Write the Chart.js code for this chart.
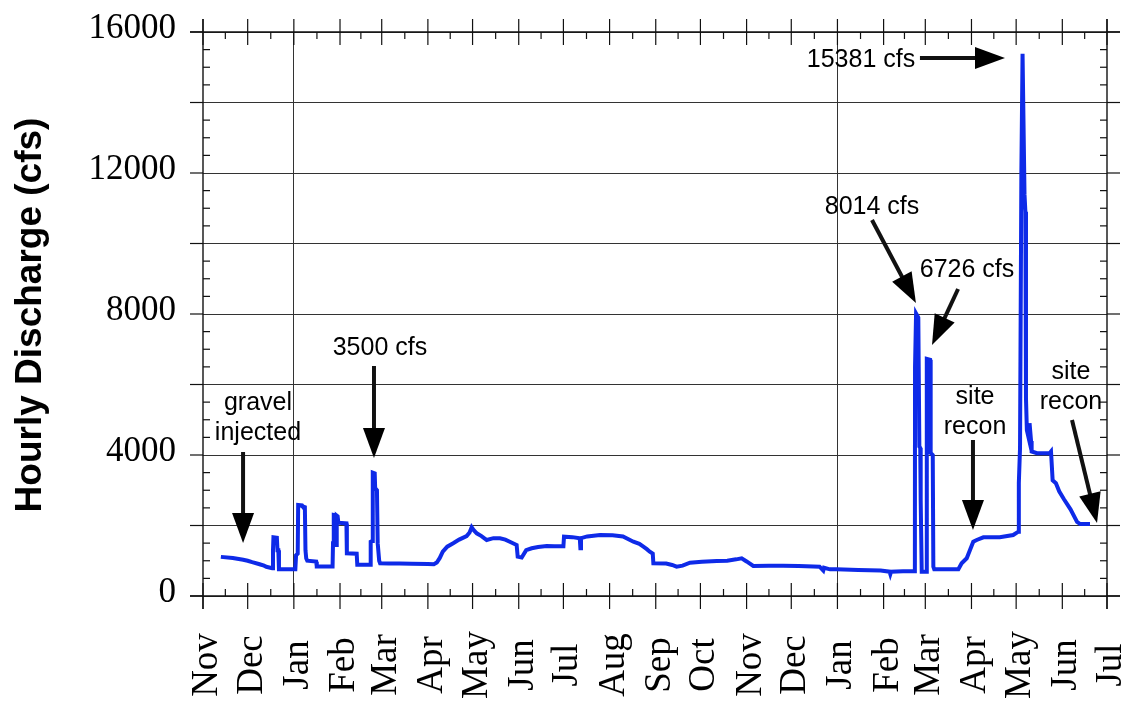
<!DOCTYPE html>
<html>
<head>
<meta charset="utf-8">
<title>Hourly Discharge</title>
<script src="https://cdn.jsdelivr.net/npm/chart.js@4/dist/chart.umd.min.js"></script>
<style>
  html, body { margin: 0; padding: 0; background: #ffffff; }
  #wrap { width: 1136px; height: 702px; }
</style>
</head>
<body>
<div id="wrap"><canvas id="c" width="1136" height="702"></canvas></div>
<script>
// Calendar of the record: month names at each month boundary (Nov .. Jul, 20 months)
const monthLabels = ['Nov','Dec','Jan','Feb','Mar','Apr','May','Jun','Jul','Aug','Sep','Oct',
                     'Nov','Dec','Jan','Feb','Mar','Apr','May','Jun','Jul'];
const monthLengths = [30,31,31,28,31,30,31,30,31,31,30,31,30,31,31,28,31,30,31,30];

// Discharge axis labels (cfs)
const yTickLabels = [0, 4000, 8000, 12000, 16000];

// Hourly discharge record: day since Nov 1 and flow in cfs
const flowDay = [
  12, 20, 27, 30, 33, 38, 41, 42.5, 46.5, 47, 47.3, 49.6, 50, 50.6, 51,
  62, 62.5, 63.6, 63.9, 66.5, 67, 68.4, 68.8, 69.3, 70, 76, 76.4,
  87, 87.3, 87.8, 89, 89.4, 89.8, 90.4, 90.9, 96.3, 96.6, 103.2, 103.6,
  112.3, 112.6, 113.6, 114, 115.3, 115.6, 116.8, 117.3, 118.3, 118.9,
  125, 132, 140, 151, 155, 157, 159, 161, 164, 168, 172, 177, 179, 180.4, 181.5,
  183.8, 187, 190.5, 195, 199.4, 203, 206, 210.6, 211.3, 214, 217, 220.7, 225,
  230.8, 236, 242, 242.4, 248, 253, 253.4, 253.8, 258, 266.6, 275, 282, 289,
  293, 295.7, 298, 300, 302, 302.4, 311, 315, 318, 322, 327, 335, 345, 352,
  358, 361.7, 365, 369.5, 380, 389.5, 400, 409.8, 414, 416.5, 417, 421, 425.5,
  440, 455, 461, 461.5, 462, 470, 478,
  478.1, 478.8, 480.3, 481, 481.6, 481.9, 482.6, 485.5, 486, 488.2, 488.6, 490,
  490.4, 491, 507.2, 509.4, 512.8, 515, 517.2, 519.5, 524, 535, 544, 547.5,
  547.8, 548.6, 549.5, 550.3, 551.6, 552.2, 552.6, 553.2, 554.3, 555, 556, 556.4,
  560, 568.4, 569.4, 570.5, 572.7, 574.9, 578, 582.5, 586.9, 589, 595.6
];
const flowCfs = [
  1110, 1075, 1030, 1000, 960, 900, 860, 830, 790, 1300, 1665, 1650, 1300, 1300, 760,
  760, 1160, 1200, 2580, 2570, 2540, 2520, 1300, 1070, 1000, 975, 840,
  840, 1500, 2300, 2290, 1450, 2280, 2260, 2080, 2060, 1210, 1200, 890,
  890, 1540, 1560, 3500, 3480, 3060, 3000, 1500, 1000, 930,
  925, 920, 915, 910, 900, 950, 1080, 1257, 1400, 1495, 1600, 1702, 1800, 1949, 1880,
  1779, 1700, 1589, 1640, 1636, 1600, 1540, 1447, 1116, 1090, 1300, 1353, 1390,
  1418, 1410, 1410, 1683, 1670, 1636, 1353, 1640, 1690, 1730, 1720, 1690, 1540,
  1480, 1400, 1330, 1257, 1200, 928, 920, 880, 832, 860, 945, 970, 993, 1000,
  1040, 1070, 980, 851, 860, 860, 850, 840, 832, 720, 800, 757, 757,
  740, 720, 690, 620, 690, 700, 700,
  6500, 8014, 7900, 4236, 4200, 2723, 690, 690, 6726, 6700, 4057, 4000,
  832, 757, 757, 928, 1070, 1305, 1540, 1589, 1665, 1665, 1730, 1825,
  3197, 4200, 12000, 15381, 11400, 10900, 5600, 4700, 4500, 4900, 4400, 4100,
  4050, 4050, 4100, 3280, 3200, 2970, 2750, 2460, 2100, 2040, 2040
];

// Text notes, anchored in data units (day, cfs)
const notes = [
  { lines: ['gravel', 'injected'], day: 36.9, cfs: 5475 },
  { lines: ['3500 cfs'], day: 118.8, cfs: 7035 },
  { lines: ['15381 cfs'], day: 441.8, cfs: 15206 },
  { lines: ['8014 cfs'], day: 449.2, cfs: 11035 },
  { lines: ['6726 cfs'], day: 513.0, cfs: 9248 },
  { lines: ['site', 'recon'], day: 518.4, cfs: 5645 },
  { lines: ['site', 'recon'], day: 582.8, cfs: 6355 }
];
// Arrows: tail -> tip, in data units
const arrows = [
  { from: [26.9, 4085], to: [26.9, 1504] },
  { from: [114.8, 6525], to: [114.8, 3915] },
  { from: [481.4, 15262], to: [538.5, 15262] },
  { from: [449.2, 10667], to: [478.7, 8312] },
  { from: [507.0, 8709], to: [489.5, 7121] },
  { from: [517.0, 4426], to: [517.0, 1872] },
  { from: [583.5, 4993], to: [600.3, 2071] }
];

// Month boundary positions on the day axis
const monthStarts = [0];
monthLengths.forEach(n => monthStarts.push(monthStarts[monthStarts.length - 1] + n));
const yearStarts = monthStarts.filter((d, i) => monthLabels[i] === 'Jan');

const points = flowDay.map((d, i) => ({ x: d, y: flowCfs[i] }));

const SERIF = "'Liberation Serif', 'Times New Roman', serif";
const SANS = "'Liberation Sans', Arial, Helvetica, sans-serif";

function drawArrow(ctx, x1, y1, x2, y2) {
  const ang = Math.atan2(y2 - y1, x2 - x1);
  const headLen = 30, headHalf = 11;
  const bx = x2 - Math.cos(ang) * headLen, by = y2 - Math.sin(ang) * headLen;
  ctx.beginPath();
  ctx.lineWidth = 4;
  ctx.moveTo(x1, y1);
  ctx.lineTo(bx + Math.cos(ang) * 2, by + Math.sin(ang) * 2);
  ctx.stroke();
  ctx.beginPath();
  ctx.moveTo(x2, y2);
  ctx.lineTo(bx - Math.sin(ang) * headHalf, by + Math.cos(ang) * headHalf);
  ctx.lineTo(bx + Math.sin(ang) * headHalf, by - Math.cos(ang) * headHalf);
  ctx.closePath();
  ctx.fill();
}

// Frame, tick marks, axis texts and notes
const frameAndNotes = {
  id: 'frameAndNotes',
  afterDraw(chart) {
    const { ctx, chartArea: a, scales: { x, y } } = chart;
    const ext = 13;
    ctx.save();
    ctx.strokeStyle = '#111';
    ctx.fillStyle = '#000';
    ctx.lineWidth = 1.4;
    const seg = (x1, y1, x2, y2) => { ctx.beginPath(); ctx.moveTo(x1, y1); ctx.lineTo(x2, y2); ctx.stroke(); };

    // frame lines, each running a little past the corners
    seg(a.left - ext, a.top, a.right + ext, a.top);
    seg(a.left - ext, a.bottom, a.right + ext, a.bottom);
    seg(a.left, a.top - ext, a.left, a.bottom + ext);
    seg(a.right, a.top - ext, a.right, a.bottom + ext);

    // value axis: gridline stubs outside, minor ticks inside
    ctx.lineWidth = 1.2;
    for (let v = 0; v <= 16000; v += 500) {
      const py = y.getPixelForValue(v);
      if (v % 2000 === 0) {
        seg(a.left - ext, py, a.left, py);
        seg(a.right, py, a.right + ext, py);
      } else {
        seg(a.left, py, a.left + 7, py);
        seg(a.right - 7, py, a.right, py);
      }
    }
    // month axis: crossing ticks at month starts, short ticks mid-month
    monthStarts.forEach((d, i) => {
      const px = x.getPixelForValue(d);
      seg(px, a.top - ext, px, a.top + ext);
      seg(px, a.bottom - ext, px, a.bottom + ext);
      if (i < monthStarts.length - 1) {
        const mx = x.getPixelForValue((d + monthStarts[i + 1]) / 2);
        seg(mx, a.top, mx, a.top + 7);
        seg(mx, a.bottom - 7, mx, a.bottom);
      }
    });

    // value labels
    ctx.font = '35px ' + SERIF;
    ctx.textAlign = 'right';
    ctx.textBaseline = 'alphabetic';
    yTickLabels.forEach(v => ctx.fillText(String(v), a.left - 27, y.getPixelForValue(v) + 6));

    // month labels, upright reading bottom to top
    ctx.font = '37px ' + SERIF;
    ctx.textAlign = 'center';
    monthLabels.forEach((m, i) => {
      const px = x.getPixelForValue(monthStarts[i]);
      ctx.save();
      ctx.translate(px + 14, 665);
      ctx.rotate(-Math.PI / 2);
      ctx.fillText(m, 0, 0);
      ctx.restore();
    });

    // axis title
    ctx.save();
    ctx.font = 'bold 37px ' + SANS;
    ctx.translate(41, (a.top + a.bottom) / 2 + 1);
    ctx.rotate(-Math.PI / 2);
    ctx.fillText('Hourly Discharge (cfs)', 0, 0);
    ctx.restore();

    // notes
    ctx.font = '25px ' + SANS;
    ctx.textAlign = 'center';
    ctx.textBaseline = 'middle';
    notes.forEach(n => {
      const px = x.getPixelForValue(n.day), py = y.getPixelForValue(n.cfs);
      n.lines.forEach((t, k) => ctx.fillText(t, px, py + k * 30));
    });
    arrows.forEach(r => {
      drawArrow(ctx,
        x.getPixelForValue(r.from[0]), y.getPixelForValue(r.from[1]),
        x.getPixelForValue(r.to[0]), y.getPixelForValue(r.to[1]));
    });
    ctx.restore();
  }
};

new Chart(document.getElementById('c'), {
  type: 'line',
  data: {
    datasets: [{
      data: points,
      borderColor: 'rgb(14, 42, 232)',
      borderWidth: 4,
      borderJoinStyle: 'miter',
      pointRadius: 0,
      tension: 0,
      fill: false
    }]
  },
  options: {
    responsive: false,
    devicePixelRatio: 1,
    animation: false,
    events: [],
    layout: { autoPadding: false, padding: { left: 0, top: 32, right: 29, bottom: 0 } },
    plugins: { legend: { display: false }, tooltip: { enabled: false }, title: { display: false } },
    scales: {
      x: {
        type: 'linear',
        min: 0,
        max: monthStarts[monthStarts.length - 1],
        afterBuildTicks: s => { s.ticks = monthStarts.map(v => ({ value: v })); },
        afterFit: s => { s.height = 106; },
        ticks: { display: false },
        border: { display: false },
        grid: {
          drawTicks: false,
          lineWidth: 1,
          color: c => (c.tick && yearStarts.includes(c.tick.value)) ? '#333' : 'rgba(0,0,0,0)'
        }
      },
      y: {
        type: 'linear',
        min: 0,
        max: 16000,
        ticks: { display: false, stepSize: 2000 },
        afterFit: s => { s.width = 203; },
        border: { display: false },
        grid: { drawTicks: false, lineWidth: 1, color: '#333' }
      }
    }
  },
  plugins: [frameAndNotes]
});
</script>
</body>
</html>
